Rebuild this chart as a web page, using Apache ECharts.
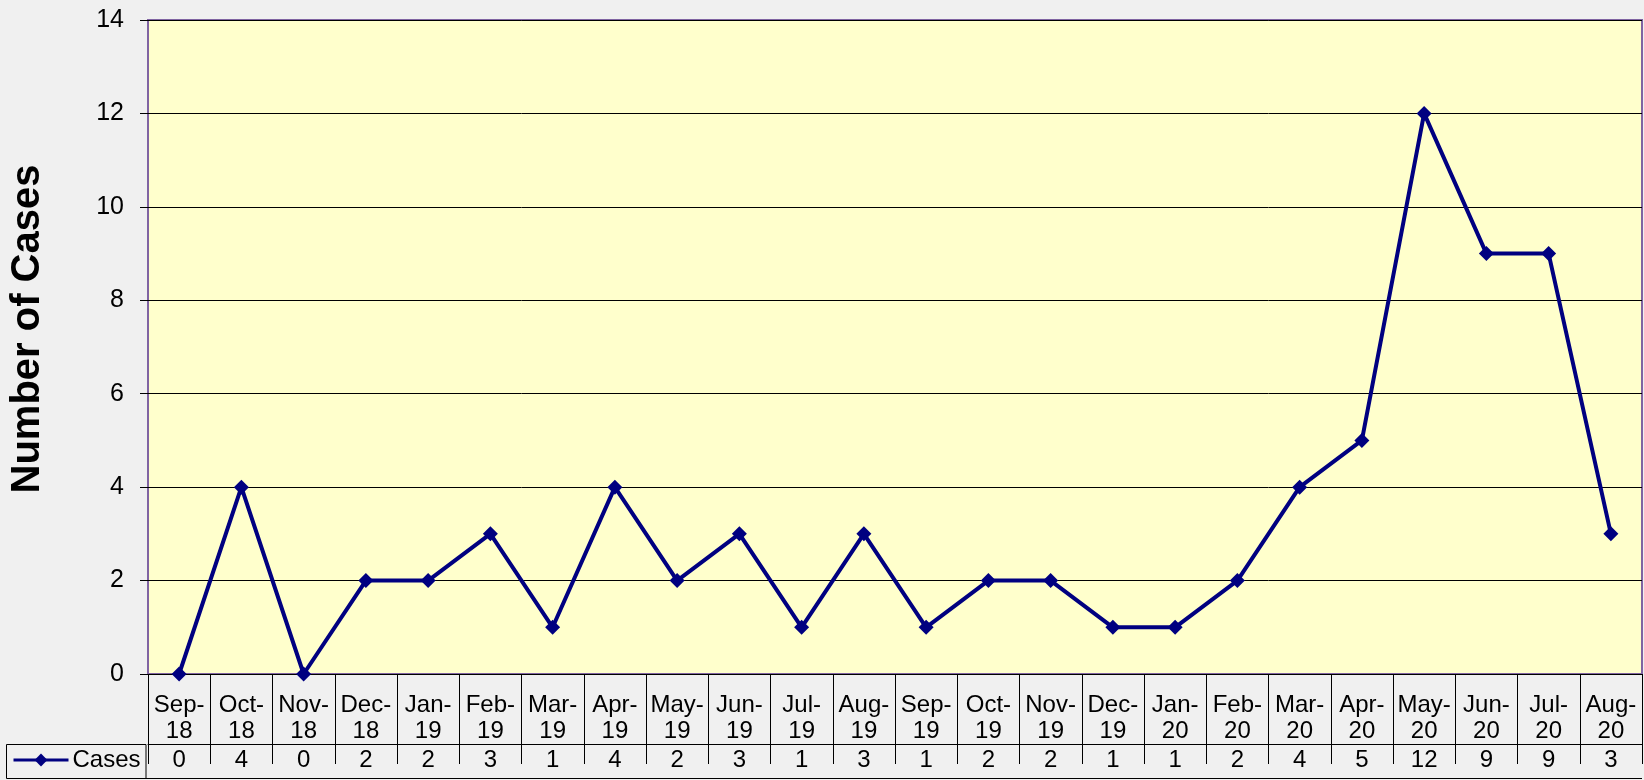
<!DOCTYPE html>
<html>
<head>
<meta charset="utf-8">
<script src="https://cdn.jsdelivr.net/npm/echarts@6/dist/echarts.min.js"></script>
<style>
  html, body { margin: 0; padding: 0; background: #f0f0f0; }
  #chart { width: 1644px; height: 780px; }
</style>
</head>
<body>
<div id="chart"></div>
<script>
// months shown in the data table under the chart
const months = ['Sep-18', 'Oct-18', 'Nov-18', 'Dec-18', 'Jan-19', 'Feb-19', 'Mar-19', 'Apr-19',
  'May-19', 'Jun-19', 'Jul-19', 'Aug-19', 'Sep-19', 'Oct-19', 'Nov-19', 'Dec-19',
  'Jan-20', 'Feb-20', 'Mar-20', 'Apr-20', 'May-20', 'Jun-20', 'Jul-20', 'Aug-20']
const cases = [0, 4, 0, 2, 2, 3, 1, 4, 2, 3, 1, 3, 1, 2, 2, 1, 1, 2, 4, 5, 12, 9, 9, 3]
const yMin = 0
const yMax = 14
const yStep = 2

const font = "'Liberation Sans', Arial, sans-serif"
const chart = echarts.init(document.getElementById('chart'))

chart.setOption({
  backgroundColor: '#f0f0f0',
  animation: false,
  textStyle: { fontFamily: font },
  grid: {
    left: 146, right: 2, top: 20, bottom: 106,
    show: true,
    backgroundColor: '#ffffcc',
    borderColor: '#8064a2',
    borderWidth: 2
  },
  legend: {
    left: 12, top: 748, padding: 0,
    itemWidth: 55, itemHeight: 16,
    lineStyle: { width: 3 },
    textStyle: { fontSize: 24, color: '#000', fontFamily: font, padding: [0, 0, 0, -1] },
    data: ['Cases']
  },
  xAxis: [
    {
      type: 'category',
      data: months,
      position: 'bottom',
      offset: 14,
      axisLine: { show: true, lineStyle: { color: '#000', width: 1 } },
      axisTick: { show: true, interval: 0, length: 90, lineStyle: { color: '#000', width: 1 } },
      axisLabel: {
        interval: 0, margin: 4, fontSize: 24, lineHeight: 26, color: '#000',
        formatter: v => v.replace('-', '-\n')
      },
      splitLine: { show: false }
    },
    {
      type: 'category',
      data: months,
      position: 'bottom',
      offset: 70,
      axisLine: { show: true, lineStyle: { color: '#000', width: 1 } },
      axisTick: { show: false },
      axisLabel: {
        interval: 0, margin: 3, fontSize: 24, lineHeight: 27, color: '#000',
        formatter: (v, i) => String(cases[i])
      },
      splitLine: { show: false }
    }
  ],
  yAxis: {
    type: 'value',
    min: yMin, max: yMax, interval: yStep,
    name: 'Number of Cases',
    nameLocation: 'middle',
    nameGap: 100,
    nameTextStyle: { fontSize: 40, fontWeight: 'bold', color: '#000', padding: [0, 0, 0, 36] },
    axisLine: { show: false },
    axisTick: { show: true, length: 8, lineStyle: { color: '#000' } },
    axisLabel: { fontSize: 25, color: '#000', margin: 24 },
    splitLine: { show: true, lineStyle: { color: '#000', width: 1 } }
  },
  series: [{
    name: 'Cases',
    type: 'line',
    data: cases,
    symbol: 'diamond',
    symbolSize: 15,
    color: '#000080',
    lineStyle: { width: 4, color: '#000080' },
    itemStyle: { color: '#000080' }
  }],
  graphic: [
    {
      type: 'rect',
      shape: { x: 6.5, y: 744.5, width: 139.5, height: 34 },
      style: { fill: null, stroke: '#000', lineWidth: 1 }
    },
    {
      type: 'line',
      shape: { x1: 146, y1: 778.5, x2: 1642, y2: 778.5 },
      style: { stroke: '#000', lineWidth: 1 }
    }
  ]
})
</script>
</body>
</html>
